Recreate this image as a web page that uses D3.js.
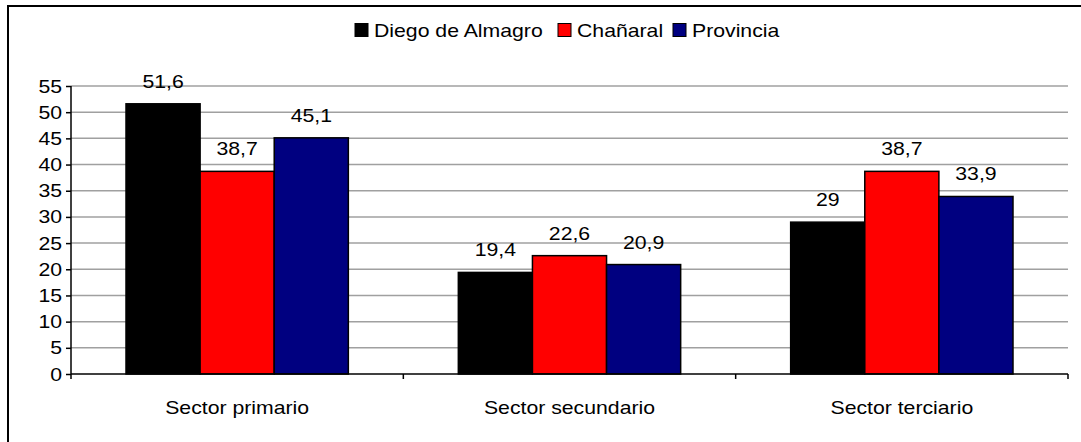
<!DOCTYPE html>
<html>
<head>
<meta charset="utf-8">
<script src="https://cdn.jsdelivr.net/npm/d3@7"></script>
<style>
  body { margin: 0; background: #fff; }
  text { font-family: "Liberation Sans", Arial, sans-serif; fill: #000; font-size: 18px; }
</style>
</head>
<body>
<div id="chart"></div>
<script>
// Data
var categories = ["Sector primario", "Sector secundario", "Sector terciario"];
var seriesNames = ["Diego de Almagro", "Chañaral", "Provincia"];
var seriesColors = ["#000000", "#ff0000", "#000080"];
var diegoValues = [51.6, 19.4, 29];
var chanaralValues = [38.7, 22.6, 38.7];
var provinciaValues = [45.1, 20.9, 33.9];
var yTicks = [0, 5, 10, 15, 20, 25, 30, 35, 40, 45, 50, 55];

var seriesValues = [diegoValues, chanaralValues, provinciaValues];

var svgWidth = 1081;
var svgHeight = 442;

var margin = { top: 86, right: 13, bottom: 68, left: 71 };
var width = svgWidth - margin.left - margin.right;
var height = svgHeight - margin.top - margin.bottom;

// the original text is a bit stretched sideways
var stretch = 1.18;
function place(x, y) {
    return `translate(${x}, ${y}) scale(${stretch}, 1)`;
}

var svg = d3.select("#chart")
    .append("svg")
    .attr("width", svgWidth)
    .attr("height", svgHeight);

// outer frame (clipped at right and bottom in the original)
svg.append("rect")
    .attr("x", 8)
    .attr("y", 6)
    .attr("width", 1200)
    .attr("height", 600)
    .attr("fill", "none")
    .attr("stroke", "#000")
    .attr("stroke-width", 2);

var chartGroup = svg.append("g")
    .attr("transform", `translate(${margin.left}, ${margin.top})`);

var x0 = d3.scaleBand()
    .domain(categories)
    .range([0, width])
    .paddingInner(0.331)
    .paddingOuter(0.1655);

var x1 = d3.scaleBand()
    .domain(seriesNames)
    .range([0, x0.bandwidth()]);

var y = d3.scaleLinear()
    .domain([0, 55])
    .range([height, 0]);

// gridlines
chartGroup.append("g")
    .selectAll("line")
    .data(yTicks.slice(1))
    .enter()
    .append("line")
    .attr("x1", 0)
    .attr("x2", width)
    .attr("y1", d => y(d))
    .attr("y2", d => y(d))
    .attr("stroke", "#a0a0a0")
    .attr("stroke-width", 1.5);

// bars
var groups = chartGroup.selectAll("g.cat")
    .data(categories)
    .enter()
    .append("g")
    .attr("class", "cat")
    .attr("transform", d => `translate(${x0(d)}, 0)`);

groups.each(function(cat, ci) {
    var g = d3.select(this);
    var rows = seriesNames.map((s, si) => ({ name: s, value: seriesValues[si][ci], color: seriesColors[si] }));

    g.selectAll("rect")
        .data(rows)
        .enter()
        .append("rect")
        .attr("x", d => x1(d.name))
        .attr("y", d => y(d.value))
        .attr("width", x1.bandwidth())
        .attr("height", d => height - y(d.value))
        .attr("fill", d => d.color)
        .attr("stroke", "#000")
        .attr("stroke-width", 1.5);

    g.selectAll("text.val")
        .data(rows)
        .enter()
        .append("text")
        .attr("class", "val")
        .attr("transform", d => place(x1(d.name) + x1.bandwidth() / 2, y(d.value) - 16))
        .attr("text-anchor", "middle")
        .text(d => String(d.value).replace(".", ","));
});

// y axis
var leftAxis = d3.axisLeft(y)
    .tickValues(yTicks)
    .tickSize(5)
    .tickFormat("");

var yAxis = chartGroup.append("g").call(leftAxis);
yAxis.select(".domain").attr("stroke", "#000").attr("stroke-width", 1.5).attr("d", `M0,${height}V0`);
yAxis.selectAll(".tick line").attr("stroke", "#000").attr("stroke-width", 1.5);

chartGroup.append("g")
    .selectAll("text")
    .data(yTicks)
    .enter()
    .append("text")
    .attr("transform", d => place(-9, y(d) + 6.5))
    .attr("text-anchor", "end")
    .text(d => d);

// x axis
var xAxis = chartGroup.append("g")
    .attr("transform", `translate(0, ${height})`);

xAxis.append("line")
    .attr("x1", 0)
    .attr("x2", width)
    .attr("stroke", "#000")
    .attr("stroke-width", 1.5);

var boundaries = [0].concat(categories.map(c => x0(c) + x0.bandwidth() + x0.step() * x0.paddingInner() / 2));
boundaries[boundaries.length - 1] = width;

xAxis.selectAll("line.tk")
    .data(boundaries)
    .enter()
    .append("line")
    .attr("class", "tk")
    .attr("x1", d => d)
    .attr("x2", d => d)
    .attr("y1", 0)
    .attr("y2", 5)
    .attr("stroke", "#000")
    .attr("stroke-width", 1.5);

xAxis.selectAll("text")
    .data(categories)
    .enter()
    .append("text")
    .attr("transform", d => place(x0(d) + x0.bandwidth() / 2, 40))
    .attr("text-anchor", "middle")
    .text(d => d);

// legend
var legendItems = [
    { name: seriesNames[0], color: seriesColors[0], x: 355 },
    { name: seriesNames[1], color: seriesColors[1], x: 558 },
    { name: seriesNames[2], color: seriesColors[2], x: 673 }
];

var legend = svg.append("g");
legend.selectAll("rect")
    .data(legendItems)
    .enter()
    .append("rect")
    .attr("x", d => d.x)
    .attr("y", 23.5)
    .attr("width", 13)
    .attr("height", 13)
    .attr("fill", d => d.color)
    .attr("stroke", "#000")
    .attr("stroke-width", 1);

legend.selectAll("text")
    .data(legendItems)
    .enter()
    .append("text")
    .attr("transform", d => place(d.x + 19, 37))
    .text(d => d.name);
</script>
</body>
</html>
